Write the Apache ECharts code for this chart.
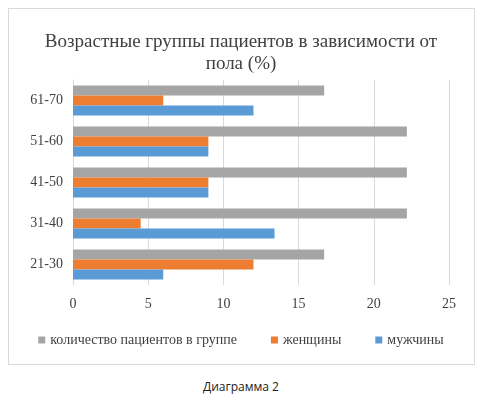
<!DOCTYPE html>
<html>
<head>
<meta charset="utf-8">
<script src="https://cdn.jsdelivr.net/npm/echarts@6/dist/echarts.min.js"></script>
<style>
  body { margin: 0; background: #fff; }
  #frame { position: absolute; left: 8px; top: 8px; width: 467px; height: 357px; border: 1px solid #d9d9d9; box-sizing: border-box; }
  #main { position: absolute; left: 0; top: 0; width: 482px; height: 370px; }
  #caption { position: absolute; left: 0; top: 378px; width: 482px; text-align: center; font-family: "Open Sans", sans-serif; font-size: 12px; color: #222; }
</style>
</head>
<body>
<div id="frame"></div>
<div id="main"></div>
<div id="caption">Диаграмма 2</div>
<script>
var categories = ['21-30', '31-40', '41-50', '51-60', '61-70'];
var men = [6, 13.4, 9, 9, 12];
var women = [12, 4.5, 9, 9, 6];
var total = [16.7, 22.2, 22.2, 22.2, 16.7];
var xTicks = [0, 5, 10, 15, 20, 25];

(function () {
    var myChart = echarts.init(document.getElementById('main'));
    var font = '"Liberation Serif", "Times New Roman", serif';
    myChart.setOption({
        animation: false,
        textStyle: { fontFamily: font },
        title: {
            text: 'Возрастные группы пациентов в зависимости от\nпола (%)',
            left: 'center',
            top: 26,
            textStyle: { fontFamily: font, fontSize: 19, fontWeight: 'normal', color: '#404040', lineHeight: 22 }
        },
        legend: {
            bottom: 18,
            itemWidth: 7, itemHeight: 7, itemGap: 34,
            icon: 'rect',
            textStyle: { fontFamily: font, fontSize: 14, color: '#404040' },
            data: ['количество пациентов в группе', 'женщины', 'мужчины']
        },
        grid: { left: 73, right: 33, top: 80, bottom: 85 },
        xAxis: {
            type: 'value', min: 0, max: 25, interval: 5,
            axisLine: { show: false }, axisTick: { show: false },
            axisLabel: { fontFamily: font, fontSize: 14, color: '#404040', margin: 12,
                formatter: function (v) { return xTicks.indexOf(v) >= 0 ? v : ''; } },
            splitLine: { lineStyle: { color: '#d9d9d9' } }
        },
        yAxis: {
            type: 'category', data: categories,
            axisLine: { lineStyle: { color: '#d9d9d9' } }, axisTick: { show: false },
            axisLabel: { fontFamily: font, fontSize: 14, color: '#404040', margin: 10 }
        },
        series: [
            { name: 'количество пациентов в группе', type: 'bar', data: total, itemStyle: { color: '#A5A5A5' }, barGap: '0%', barCategoryGap: '27%' },
            { name: 'женщины', type: 'bar', data: women, itemStyle: { color: '#ED7D31' } },
            { name: 'мужчины', type: 'bar', data: men, itemStyle: { color: '#5B9BD5' } }
        ]
    });
})();
</script>
</body>
</html>
